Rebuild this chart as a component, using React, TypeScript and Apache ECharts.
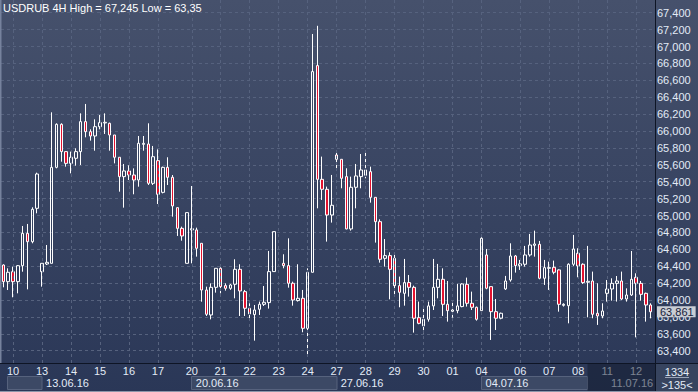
import React, { useEffect, useRef } from 'react';
import * as echarts from 'echarts';

// ---- data (4H candles, USDRUB) ----
const opens: (number | null)[] = [
  64.414, 64.217, 64.335, 64.217, 64.406, 64.789, 64.690, 65.085, 64.335, 64.426,
  64.434, 65.570, 66.079, 65.756, 65.617, 65.677, 65.756, 66.111, 65.992, 65.941,
  66.051, 66.095, 66.091, 65.953, 65.689, 65.460, 65.527, 65.479, 65.420, 65.842,
  65.846, 65.381, 65.649, 65.274, 65.570, 65.452, 65.093, 64.848, 64.434, 64.829,
  64.829, 64.671, 64.118, 63.823, 64.150, 64.375, 64.170, 64.138, 64.186, 64.363,
  64.099, 63.902, 63.827, 63.890, 63.949, 63.969, 64.336, null, 64.434, 64.407,
  64.198, 63.993, 64.020, 63.665, 64.328, 66.774, 65.428, 65.310, 65.006, 65.716,
  65.665, 65.460, 64.841, 65.334, 65.460, 65.476, 65.519, 65.215, 64.927, 64.493,
  64.525, 64.493, 64.170, 64.079, 64.206, 64.150, 63.791, 63.693, 63.772, 63.930,
  64.150, 64.245, 63.949, 63.866, 63.874, 63.922, 64.186, 63.961, 63.914, 63.874,
  64.533, 64.158, 63.862, 63.784, 64.131, 64.237, 64.521, 64.407, 64.423, 64.533,
  64.647, 64.659, 64.257, 64.375, 64.387, 64.356, 63.937, 63.933, 64.423, 64.553,
  64.423, 64.210, 64.225, 63.843, 63.811, 64.079, 64.130, 64.197, 64.225, 64.012,
  64.059, 64.268, 64.197, 64.079, 63.941,
];
const closes: (number | null)[] = [
  64.217, 64.328, 64.217, 64.406, 64.789, 64.690, 65.073, 65.491, 64.434, 64.446,
  65.570, 66.079, 65.756, 65.617, 65.689, 65.756, 66.111, 65.992, 65.941, 66.051,
  66.099, 66.103, 65.953, 65.689, 65.460, 65.527, 65.479, 65.420, 65.854, 65.854,
  65.381, 65.696, 65.251, 65.570, 65.452, 65.113, 64.848, 64.758, 65.034, 64.844,
  64.612, 64.118, 63.831, 64.150, 64.375, 64.158, 64.138, 64.178, 64.363, 64.107,
  63.902, 63.835, 63.882, 63.949, 63.973, 64.336, 64.809, null, 64.407, 64.198,
  64.000, 64.020, 63.665, 64.328, 66.703, 65.428, 65.310, 65.006, 65.121, 65.665,
  65.440, 64.841, 65.334, 65.468, 65.539, 65.539, 65.215, 64.927, 64.482, 64.525,
  64.363, 64.170, 64.091, 64.206, 64.150, 63.784, 63.724, 63.772, 63.930, 64.150,
  64.245, 63.949, 63.874, 63.882, 63.930, 64.190, 63.961, 63.914, 63.772, 64.730,
  64.139, 63.862, 63.784, 63.843, 64.225, 64.521, 64.407, 64.427, 64.533, 64.651,
  64.663, 64.257, 64.383, 64.383, 64.328, 63.949, 63.949, 64.423, 64.604, 64.403,
  64.206, 64.221, 63.831, 63.811, 63.870, 64.130, 64.197, 64.225, 64.012, 64.059,
  64.245, 64.197, 64.067, 63.941, 63.861,
];
const lows: (number | null)[] = [
  64.150, 64.118, 64.032, 64.079, 64.335, 64.126, 64.671, 65.026, 64.158, 64.414,
  64.434, 65.558, 65.637, 65.578, 65.499, 65.590, 65.598, 65.925, 65.886, 65.767,
  66.020, 65.965, 65.767, 65.617, 65.282, 65.093, 65.420, 65.251, 65.341, 65.767,
  65.361, 65.361, 65.136, 65.262, 65.361, 64.986, 64.758, 64.702, 64.434, 64.434,
  64.513, 63.980, 63.811, 63.771, 64.087, 64.079, 64.111, 64.120, 64.020, 63.811,
  63.811, 63.783, 63.519, 63.823, 63.929, 63.898, 64.336, null, 64.375, 64.146,
  63.933, 63.981, 63.618, 63.350, 64.328, 65.085, 65.184, 64.691, 64.916, 65.547,
  65.322, 64.837, 64.821, 65.085, 65.322, 65.440, 65.152, 64.679, 64.442, 64.395,
  64.008, 64.040, 63.914, 63.933, 64.040, 63.614, 63.713, 63.606, 63.744, 63.882,
  64.020, 63.811, 63.744, 63.791, 63.843, 63.914, 63.922, 63.882, 63.756, 63.874,
  64.127, 63.527, 63.645, 63.772, 64.119, 64.217, 64.324, 64.356, 64.395, 64.513,
  64.513, 64.245, 64.178, 64.119, 64.304, 63.862, 63.922, 63.724, 64.403, 64.269,
  64.190, 63.795, 63.784, 63.705, 63.784, 63.981, 63.992, 63.981, 64.000, 63.981,
  64.048, 63.558, 63.992, 63.744, 63.783,
];
const highs: (number | null)[] = [
  64.422, 64.375, 64.395, 64.414, 64.876, 64.900, 65.097, 65.507, 64.434, 64.651,
  66.221, 66.091, 66.091, 65.756, 65.756, 65.795, 66.209, 66.320, 66.020, 66.138,
  66.189, 66.209, 66.099, 65.953, 65.689, 65.610, 65.594, 65.558, 65.941, 65.941,
  66.091, 65.823, 65.783, 65.578, 65.689, 65.479, 65.093, 64.868, 65.034, 65.349,
  64.856, 64.671, 64.158, 64.197, 64.375, 64.387, 64.197, 64.190, 64.482, 64.423,
  64.119, 63.961, 63.941, 63.981, 64.166, 64.580, 64.809, null, 64.541, 64.730,
  64.217, 64.423, 64.119, 64.375, 67.148, 67.245, 65.697, 65.342, 65.480, 65.744,
  65.665, 65.559, 65.460, 65.610, 65.728, 65.756, 65.578, 65.215, 64.955, 64.722,
  64.564, 64.553, 64.277, 64.486, 64.296, 64.170, 63.981, 63.930, 63.981, 64.486,
  64.427, 64.375, 64.225, 63.981, 64.190, 64.198, 64.265, 64.099, 63.922, 64.742,
  64.604, 64.158, 64.012, 63.851, 64.285, 64.671, 64.533, 64.474, 64.640, 64.782,
  64.821, 64.699, 64.474, 64.454, 64.466, 64.363, 63.961, 64.434, 64.770, 64.612,
  64.434, 64.640, 64.336, 64.198, 63.961, 64.237, 64.257, 64.284, 64.336, 64.138,
  64.580, 64.316, 64.225, 64.087, 63.961,
];

// first candle of each trading day, and its label
const dayStartIndex = [2, 8, 14, 20, 26, 32, 39, 45, 51, 57, 63, 69, 75, 81, 87, 93, 99, 107, 113, 119, 125, 131];
const dayNames = ['10', '13', '14', '15', '16', '17', '20', '21', '22', '23', '24', '27', '28', '29', '30', '01', '04', '06', '07', '08', '11', '12'];
// first candle of each week, and its label
const weekStartIndex = [8, 39, 69, 99, 125];
const weekNames = ['13.06.16', '20.06.16', '27.06.16', '04.07.16', '11.07.16'];

const yMin = 63.2;
const yMax = 67.6;
const yStep = 0.2;
const lastPrice = 63.861;
const titleText = 'USDRUB 4H High = 67,245 Low = 63,35';
const barCountText = '1334';
const visibleText = '>135<';

const FONT = '"Liberation Sans Narrow", "Liberation Sans", Arial, sans-serif';
const LABEL = '#e3ebf7';

export default function App() {
  const ref = useRef<HTMLDivElement>(null);

  useEffect(() => {
    if (!ref.current) return;
    const chart = echarts.init(ref.current, undefined, { renderer: 'svg' });

    const n = opens.length;
    const cats = opens.map((_, i) => String(i));
    const dayCats = cats.map((_, i) => {
      const k = dayStartIndex.indexOf(i);
      return k >= 0 ? dayNames[k] : '';
    });
    const weekCats = cats.map((_, i) => {
      const k = weekStartIndex.indexOf(i);
      return k >= 0 ? weekNames[k] : '';
    });
    const data = opens.map((o, i) =>
      o == null ? ['-', '-', '-', '-'] : [o, closes[i], lows[i], highs[i]]
    );

    const gLeft = 1;
    const gWidth = 652;
    const band = gWidth / n;

    const fmt = (v: number) => v.toFixed(3).replace('.', ',');

    chart.setOption({
      animation: false,
      backgroundColor: new echarts.graphic.LinearGradient(0, 0, 0, 1, [
        { offset: 0, color: '#46516c' },
        { offset: 1, color: '#2a3757' },
      ]),
      title: {
        text: titleText,
        left: 3,
        top: 2,
        padding: 0,
        textStyle: { color: '#ffffff', fontSize: 11, fontWeight: 'normal', fontFamily: FONT },
      },
      grid: [
        { left: gLeft, top: -4.2, width: gWidth, height: 371.8, outerBoundsMode: 'none', containLabel: false },
        { left: gLeft + band / 2, top: 0, width: gWidth - band, height: 363.5, outerBoundsMode: 'none', containLabel: false },
      ],
      xAxis: [
        { type: 'category', gridIndex: 0, data: cats, boundaryGap: true, show: false },
        {
          type: 'category',
          gridIndex: 1,
          data: dayCats,
          boundaryGap: false,
          position: 'bottom',
          z: 5,
          axisLine: { show: false },
          axisTick: { show: false },
          axisLabel: { interval: 0, margin: 2, color: LABEL, fontSize: 11, fontFamily: FONT },
          splitLine: {
            show: true,
            interval: (i: number) => dayCats[i] !== '',
            lineStyle: { color: '#56627e', width: 1, type: [3, 3] },
          },
        },
        {
          type: 'category',
          gridIndex: 1,
          data: weekCats,
          boundaryGap: false,
          position: 'bottom',
          offset: 12,
          z: 5,
          axisLine: { show: false },
          axisTick: { show: false },
          axisLabel: {
            interval: 0,
            margin: 2,
            align: 'left',
            padding: [0, 0, 0, 4],
            color: LABEL,
            fontSize: 11,
            fontFamily: FONT,
          },
          splitLine: { show: false },
        },
      ],
      yAxis: [
        {
          type: 'value',
          gridIndex: 0,
          position: 'right',
          min: yMin,
          max: yMax,
          interval: yStep,
          axisLine: { show: false },
          axisTick: { show: false },
          axisLabel: {
            margin: 4,
            color: LABEL,
            fontSize: 11,
            fontFamily: FONT,
            showMinLabel: false,
            showMaxLabel: false,
            formatter: fmt,
          },
          splitLine: {
            show: true,
            showMinLine: false,
            showMaxLine: false,
            lineStyle: { color: '#56627e', width: 1, type: [3, 3] },
          },
        },
        { type: 'value', gridIndex: 1, show: false, splitLine: { show: false } },
      ],
      series: [
        {
          type: 'candlestick',
          xAxisIndex: 0,
          yAxisIndex: 0,
          data,
          barWidth: 3,
          itemStyle: {
            color: 'rgba(0,0,0,0)',
            color0: '#e3122f',
            borderColor: '#ffffff',
            borderColor0: '#ffffff',
            borderWidth: 1,
          },
          markLine: {
            silent: true,
            symbol: ['none', 'none'],
            lineStyle: { color: 'rgba(0,0,0,0)', width: 0, opacity: 1 },
            data: [{ yAxis: lastPrice }],
            label: {
              show: true,
              opacity: 1,
              position: 'end',
              distance: 4,
              formatter: () => fmt(lastPrice),
              color: '#17223b',
              backgroundColor: '#c9cdd4',
              fontSize: 11,
              fontFamily: FONT,
              lineHeight: 11,
              padding: [0, 2, 0, 3],
            },
          },
        },
      ],
      graphic: [
        { type: 'rect', z: 1, shape: { x: 0, y: 0, width: 1.5, height: 363 }, style: { fill: '#76829d' } },
        { type: 'rect', z: 0, shape: { x: 7.5, y: 376.5, width: 34.5, height: 13 }, style: { fill: '#3c4965', stroke: '#56627d', lineWidth: 1 } },
        { type: 'rect', z: 0, shape: { x: 191.5, y: 376.5, width: 145.5, height: 13 }, style: { fill: '#3c4965', stroke: '#56627d', lineWidth: 1 } },
        { type: 'rect', z: 0, shape: { x: 481.5, y: 376.5, width: 106, height: 13 }, style: { fill: '#3c4965', stroke: '#56627d', lineWidth: 1 } },
        { type: 'rect', z: 20, shape: { x: 587.5, y: 364, width: 68, height: 28 }, style: { fill: 'rgba(18,26,44,0.5)' } },
        { type: 'rect', z: 20, shape: { x: 656, y: 364, width: 42, height: 28 }, style: { fill: '#37445f' } },
        {
          type: 'text', z: 21, x: 677, y: 372,
          style: { text: barCountText, fill: LABEL, fontSize: 11, fontFamily: FONT, align: 'center', verticalAlign: 'middle', textAlign: 'center', textVerticalAlign: 'middle' },
        },
        { type: 'line', z: 21, shape: { x1: 665, y1: 377.5, x2: 689, y2: 377.5 }, style: { stroke: '#9aa4b8', lineWidth: 1 } },
        {
          type: 'text', z: 21, x: 677, y: 385,
          style: { text: visibleText, fill: LABEL, fontSize: 11, fontFamily: FONT, align: 'center', verticalAlign: 'middle', textAlign: 'center', textVerticalAlign: 'middle' },
        },
        { type: 'line', z: 22, shape: { x1: 0, y1: 363.5, x2: 698, y2: 363.5 }, style: { stroke: '#0e1525', lineWidth: 1 } },
        { type: 'line', z: 22, shape: { x1: 655.5, y1: 0, x2: 655.5, y2: 392 }, style: { stroke: '#0e1525', lineWidth: 1 } },
        { type: 'line', z: 22, shape: { x1: 0, y1: 391.5, x2: 698, y2: 391.5 }, style: { stroke: '#8c96aa', lineWidth: 1 } },
      ],
    });

    return () => chart.dispose();
  }, []);

  return <div ref={ref} style={{ position: 'fixed', left: 0, top: 0, width: 698, height: 392 }} />;
}
